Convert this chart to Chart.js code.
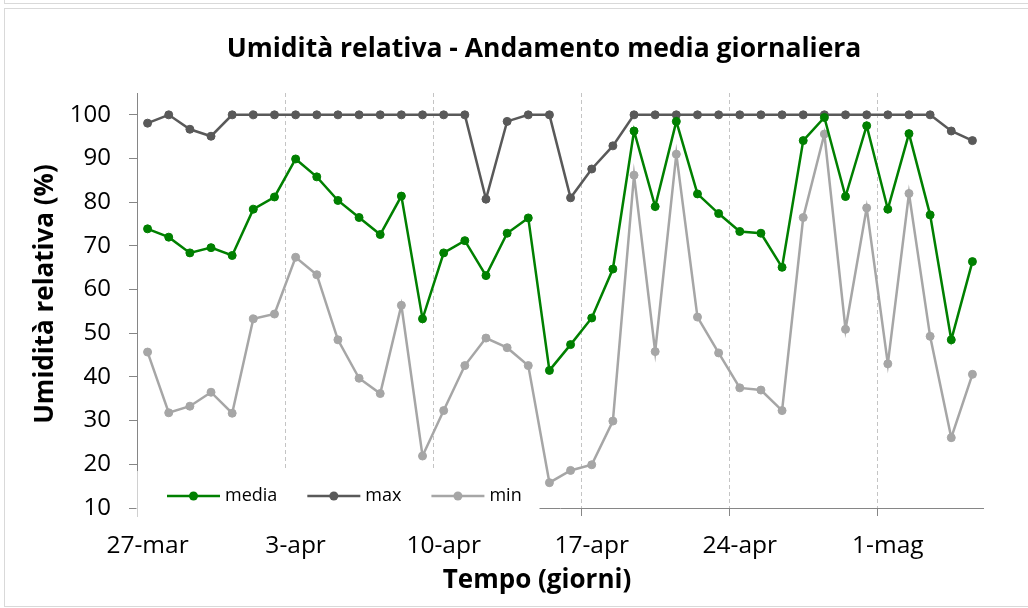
<!DOCTYPE html>
<html>
<head>
<meta charset="utf-8">
<script src="https://cdn.jsdelivr.net/npm/chart.js@4/dist/chart.umd.min.js"></script>
<style>
  html, body { margin: 0; padding: 0; background: #fff; }
  #wrap { width: 1028px; height: 608px; }
</style>
</head>
<body>
<div id="wrap"><canvas id="chart" width="1028" height="608"></canvas></div>
<script>
// giorni dal 27 marzo al 5 maggio
const giorni = [
    '27-mar', '28-mar', '29-mar', '30-mar', '31-mar',
    '1-apr', '2-apr', '3-apr', '4-apr', '5-apr', '6-apr', '7-apr', '8-apr', '9-apr', '10-apr',
    '11-apr', '12-apr', '13-apr', '14-apr', '15-apr', '16-apr', '17-apr', '18-apr', '19-apr', '20-apr',
    '21-apr', '22-apr', '23-apr', '24-apr', '25-apr', '26-apr', '27-apr', '28-apr', '29-apr', '30-apr',
    '1-mag', '2-mag', '3-mag', '4-mag', '5-mag'
];

const media = [73.9, 72.0, 68.4, 69.6, 67.8, 78.4, 81.2, 89.9, 85.8, 80.4,
               76.5, 72.6, 81.4, 53.3, 68.4, 71.2, 63.2, 72.9, 76.4, 41.5,
               47.4, 53.5, 64.7, 96.3, 79.0, 98.5, 81.9, 77.4, 73.3, 72.9,
               65.1, 94.1, 99.4, 81.3, 97.5, 78.4, 95.7, 77.1, 48.5, 66.4];

const massima = [98.1, 100, 96.7, 95.1, 100, 100, 100, 100, 100, 100,
                 100, 100, 100, 100, 100, 100, 80.7, 98.5, 100, 100,
                 81.0, 87.6, 92.9, 100, 100, 100, 100, 100, 100, 100,
                 100, 100, 100, 100, 100, 100, 100, 100, 96.3, 94.1];

const minima = [45.7, 31.8, 33.3, 36.5, 31.7, 53.3, 54.4, 67.4, 63.4, 48.5,
                39.7, 36.2, 56.4, 21.9, 32.3, 42.6, 48.9, 46.7, 42.6, 15.8,
                18.6, 19.9, 29.9, 86.2, 45.8, 91.0, 53.7, 45.5, 37.5, 37.0,
                32.3, 76.5, 95.6, 50.9, 78.7, 43.0, 82.0, 49.3, 26.1, 40.6];

const nomiSerie = ['media', 'max', 'min'];
const coloriSerie = ['#008000', '#595959', '#a6a6a6'];
const tickY = [10, 20, 30, 40, 50, 60, 70, 80, 90, 100];

const titolo = 'Umidità relativa - Andamento media giornaliera';
const titoloX = 'Tempo (giorni)';
const titoloY = 'Umidità relativa (%)';

const FONT = '"Open Sans", sans-serif';
const AXIS_GREY = '#868686';

Chart.defaults.font.family = FONT;
Chart.defaults.color = '#000';

// cornice esterna come nel foglio excel
const cornice = {
    id: 'cornice',
    beforeDraw(chart) {
        const ctx = chart.ctx;
        ctx.save();
        ctx.fillStyle = '#fff';
        ctx.fillRect(0, 0, chart.width, chart.height);
        ctx.strokeStyle = '#d9d9d9';
        ctx.lineWidth = 1;
        ctx.strokeRect(4.5, -10.5, chart.width + 20, 14);
        ctx.strokeRect(4.5, 8.5, chart.width + 20, 598);
        ctx.restore();
    }
};

const titoli = {
    id: 'titoli',
    afterDraw(chart) {
        const ctx = chart.ctx;
        ctx.save();
        ctx.fillStyle = '#000';
        ctx.textAlign = 'center';
        ctx.textBaseline = 'alphabetic';

        ctx.font = 'bold 26.5px ' + FONT;
        ctx.fillText(titolo, 544, 57);

        ctx.font = 'bold 26px ' + FONT;
        ctx.fillText(titoloX, 537, 588);

        ctx.translate(53, 294);
        ctx.rotate(-Math.PI / 2);
        ctx.fillText(titoloY, 0, 0);
        ctx.restore();
    }
};

// legenda dentro l'area del grafico, in basso a sinistra
const legendaInterna = {
    id: 'legendaInterna',
    afterDraw(chart) {
        const ctx = chart.ctx;
        const area = chart.chartArea;
        ctx.save();
        ctx.fillStyle = '#fff';
        ctx.fillRect(area.left - 0.5, 471, 403, 46);
        ctx.strokeStyle = '#d0d0d0';
        ctx.lineWidth = 1;
        ctx.beginPath();
        ctx.moveTo(area.left + 0.5, 471);
        ctx.lineTo(area.left + 0.5, 517);
        ctx.stroke();

        ctx.font = '18px ' + FONT;
        ctx.textBaseline = 'middle';
        ctx.textAlign = 'left';
        const y = 496;
        let x = 167;
        chart.data.datasets.forEach(ds => {
            ctx.strokeStyle = ds.borderColor;
            ctx.lineWidth = 2.5;
            ctx.beginPath();
            ctx.moveTo(x, y);
            ctx.lineTo(x + 53, y);
            ctx.stroke();
            ctx.fillStyle = ds.borderColor;
            ctx.beginPath();
            ctx.arc(x + 26.5, y, 4.5, 0, Math.PI * 2);
            ctx.fill();
            ctx.fillStyle = '#000';
            ctx.fillText(ds.label, x + 58, y);
            x += 58 + ctx.measureText(ds.label).width + 30;
        });
        ctx.restore();
    }
};

const serie = [media, massima, minima];

new Chart(document.getElementById('chart'), {
    type: 'line',
    data: {
        labels: giorni,
        datasets: serie.map((valori, i) => ({
            label: nomiSerie[i],
            data: valori,
            borderColor: coloriSerie[i],
            backgroundColor: coloriSerie[i],
            borderWidth: 2.5,
            pointRadius: 4,
            pointBorderWidth: 1,
            pointBackgroundColor: coloriSerie[i],
            pointBorderColor: coloriSerie[i],
            tension: 0,
            fill: false
        }))
    },
    options: {
        responsive: false,
        animation: false,
        devicePixelRatio: 1,
        layout: { padding: { top: 93, right: 45, left: 0, bottom: 0 } },
        plugins: {
            legend: { display: false },
            title: { display: false },
            tooltip: { enabled: false }
        },
        scales: {
            x: {
                type: 'category',
                offset: true,
                afterFit(scale) { scale.height = 100; },
                grid: {
                    offset: true,
                    drawOnChartArea: true,
                    color: c => (c.index > 0 && c.index % 7 === 0 ? '#c4c4c4' : 'rgba(0,0,0,0)'),
                    tickColor: c => (c.index > 0 && c.index % 7 === 0 ? AXIS_GREY : 'rgba(0,0,0,0)'),
                    tickLength: 8,
                    lineWidth: 1
                },
                border: { color: AXIS_GREY, width: 1, dash: [4, 3] },
                ticks: {
                    autoSkip: false,
                    maxRotation: 0,
                    padding: 15,
                    font: { size: 24.5 },
                    callback(value, index) {
                        return index % 7 === 0 ? this.getLabelForValue(value) : '';
                    }
                }
            },
            y: {
                min: 10,
                max: 105,
                afterFit(scale) { scale.width = 137; },
                afterBuildTicks(scale) {
                    scale.ticks = tickY.map(v => ({ value: v }));
                },
                grid: {
                    drawOnChartArea: false,
                    tickLength: 8,
                    color: AXIS_GREY,
                    tickColor: AXIS_GREY
                },
                border: { color: AXIS_GREY, width: 1 },
                ticks: {
                    stepSize: 10,
                    padding: 18,
                    font: { size: 24 }
                }
            }
        }
    },
    plugins: [cornice, titoli, legendaInterna]
});
</script>
</body>
</html>
